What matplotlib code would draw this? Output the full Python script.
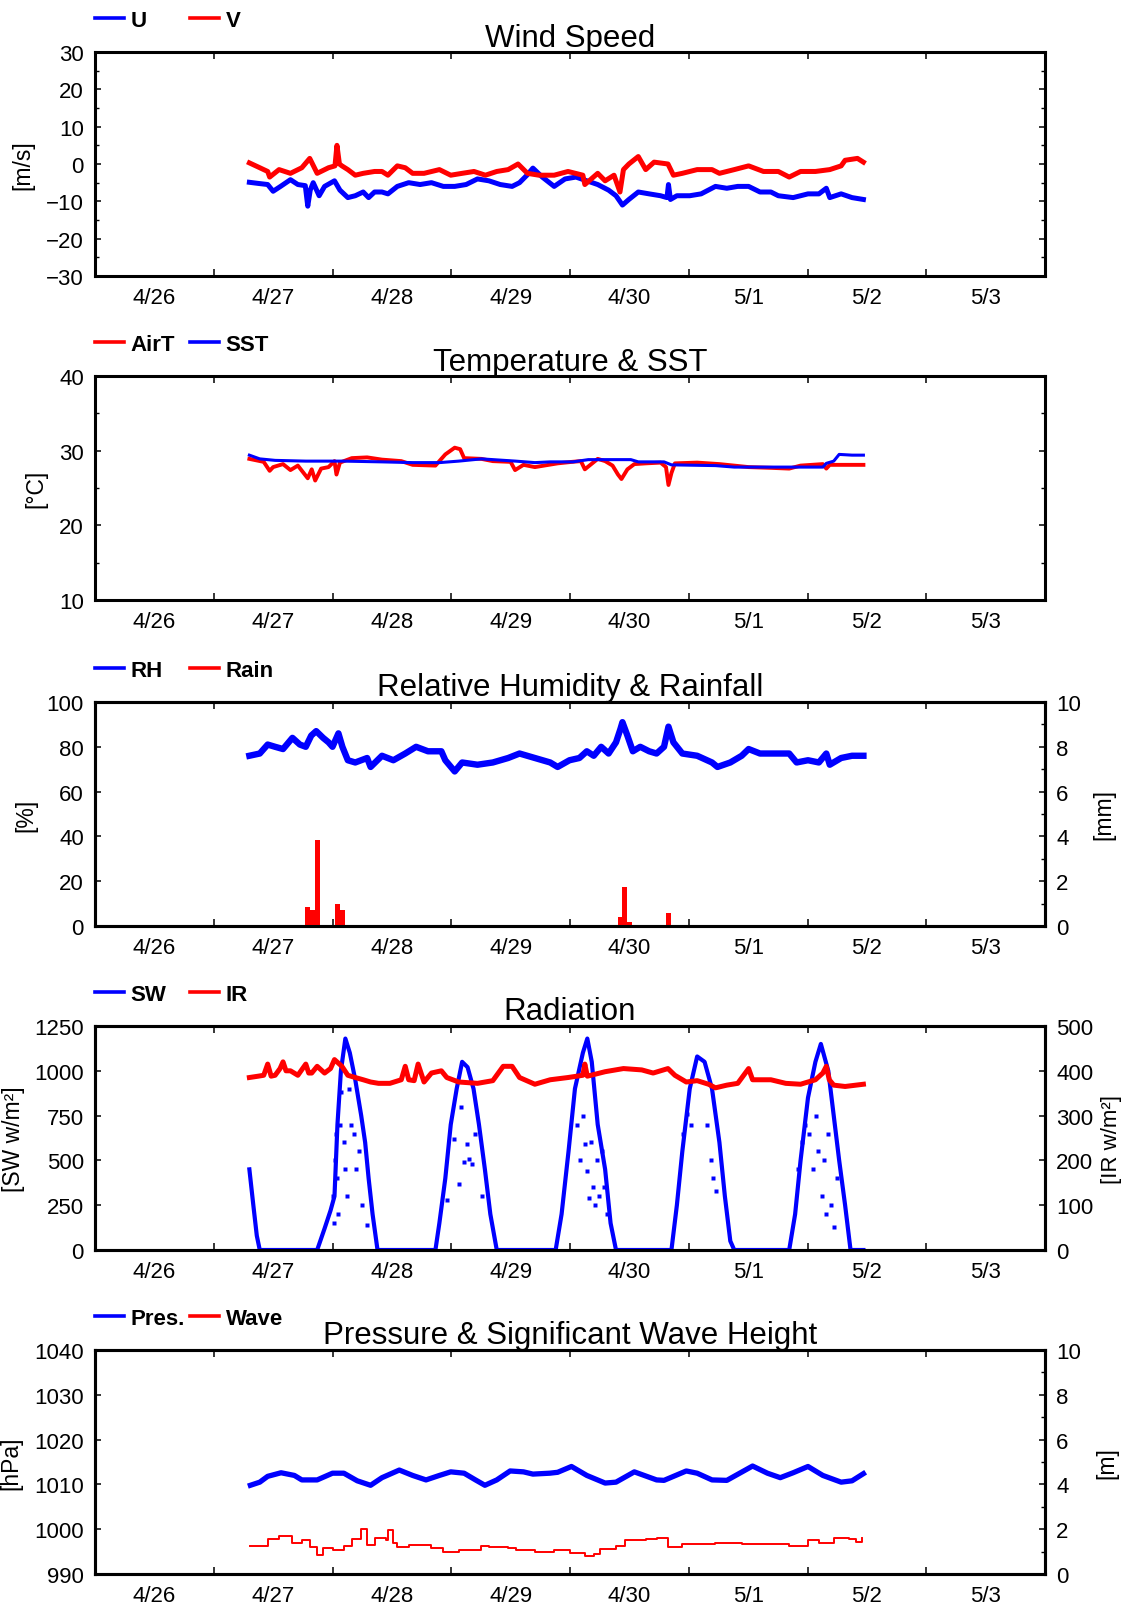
import numpy as np
import matplotlib.pyplot as plt
from matplotlib.lines import Line2D
from matplotlib.legend import Legend
from matplotlib.ticker import MultipleLocator, FixedLocator, FixedFormatter, NullFormatter

plt.rcParams['font.family'] = ['Liberation Sans', 'DejaVu Sans']

BLUE = '#0000ff'
RED = '#ff0000'

# time axis: hours since 4/26 00:00, labels sit at noon of each day
day_labels = ['4/26', '4/27', '4/28', '4/29', '4/30', '5/1', '5/2', '5/3']

# --- wind speed [m/s]
u_t = [31.2, 33.0, 34.9, 36.0, 37.5, 39.5, 41.0, 42.5, 43.0, 43.5,
       44.1, 45.3, 46.4, 48.4, 49.5, 51.1, 52.6, 54.2, 55.3, 56.5,
       58.0, 59.2, 61.1, 63.4, 65.7, 68.0, 70.4, 72.7, 75.0, 77.3,
       79.6, 81.9, 84.3, 85.8, 87.3, 88.5, 90.4, 92.8, 95.0, 97.2,
       99.4, 101.6, 103.8, 105.3, 106.6, 107.9, 109.8, 112.0, 114.3, 115.6,
       115.9, 116.3, 117.6, 120.2, 122.5, 125.4, 127.7, 129.9, 132.1, 134.4,
       136.6, 138.1, 141.1, 144.1, 146.3, 147.8, 148.5, 150.8, 153.0, 155.3]
u_v = [-4.9, -5.2, -5.5, -7.3, -6.0, -4.2, -5.5, -5.8, -11.3, -7.0,
       -5.0, -8.5, -6.0, -4.5, -7.0, -9.0, -8.5, -7.5, -9.0, -7.5,
       -7.5, -8.0, -6.0, -5.0, -5.5, -5.0, -6.0, -6.0, -5.5, -4.0,
       -4.5, -5.5, -6.0, -5.0, -3.0, -1.1, -3.5, -6.0, -4.0, -3.5,
       -4.5, -5.5, -7.0, -8.5, -11.0, -9.5, -7.5, -8.0, -8.5, -9.0,
       -5.5, -9.5, -8.5, -8.5, -8.0, -6.0, -6.5, -6.0, -6.0, -7.5,
       -7.5, -8.5, -9.0, -8.0, -8.0, -6.5, -9.0, -8.0, -9.0, -9.5]
v_t = [31.2, 33.3, 34.9, 35.3, 37.2, 39.5, 41.8, 43.4, 44.9, 47.2,
       48.5, 48.9, 49.4, 49.9, 51.1, 52.6, 54.2, 56.5, 58.0, 59.2,
       61.1, 62.7, 64.2, 66.5, 69.6, 71.9, 74.2, 76.6, 78.9, 81.2,
       83.5, 85.5, 87.4, 89.7, 92.8, 95.6, 98.6, 99.0, 101.6, 103.1,
       104.9, 106.1, 106.8, 107.9, 109.8, 111.3, 113.0, 115.8, 116.9, 118.7,
       121.7, 124.7, 126.2, 129.2, 132.1, 135.1, 138.1, 140.3, 142.6, 145.6,
       148.5, 150.8, 151.6, 154.1, 155.3]
v_v = [0.3, -1.0, -2.0, -3.5, -1.5, -2.5, -1.0, 1.5, -2.5, -1.0,
       -0.5, 5.0, 0.0, -0.5, -1.5, -3.0, -2.5, -2.0, -2.0, -3.0,
       -0.5, -1.0, -2.5, -2.5, -1.5, -3.0, -2.5, -2.0, -3.0, -2.0,
       -1.5, 0.0, -2.5, -3.0, -3.0, -2.0, -3.0, -5.5, -2.5, -4.5,
       -3.0, -7.5, -1.5, 0.0, 2.0, -1.5, 0.5, 0.0, -3.0, -2.5,
       -1.5, -1.5, -2.5, -1.5, -0.5, -2.0, -2.0, -3.5, -2.0, -2.0,
       -1.5, -0.5, 1.0, 1.5, 0.5]

# --- air temperature & SST [degC]
airt_t = [31.2, 34.1, 35.3, 36.0, 38.0, 39.5, 41.0, 43.0, 43.8, 44.5,
          45.7, 47.2, 48.4, 48.8, 49.5, 51.9, 55.0, 58.0, 61.9, 64.2,
          68.8, 70.8, 72.7, 73.8, 74.6, 78.1, 80.4, 84.0, 84.9, 86.6,
          88.9, 93.5, 96.4, 98.2, 99.0, 101.6, 103.1, 104.6, 105.7, 106.4,
          107.6, 109.0, 111.3, 114.3, 115.4, 115.9, 116.5, 117.2, 121.7, 126.2,
          132.1, 136.6, 140.3, 142.6, 147.1, 147.8, 148.5, 155.3]
airt_v = [28.9, 28.5, 27.3, 27.8, 28.2, 27.4, 28.0, 26.3, 27.5, 26.0,
          27.6, 27.8, 28.6, 26.8, 28.4, 29.0, 29.1, 28.8, 28.6, 28.1,
          28.0, 29.5, 30.4, 30.2, 29.0, 28.9, 28.6, 28.5, 27.4, 28.1,
          27.8, 28.3, 28.5, 28.6, 27.5, 28.9, 28.6, 28.0, 26.8, 26.2,
          27.5, 28.2, 28.3, 28.4, 27.8, 25.4, 27.0, 28.3, 28.4, 28.2,
          27.8, 27.7, 27.6, 28.0, 28.2, 27.6, 28.1, 28.1]
sst_t = [31.2, 33.3, 36.4, 42.6, 50.3, 58.0, 64.2, 69.6, 73.5, 78.1,
         85.0, 88.9, 92.0, 96.6, 99.7, 108.3, 109.8, 115.0, 116.5, 125.4,
         129.2, 141.1, 147.1, 147.8, 149.3, 150.4, 153.0, 155.3]
sst_v = [29.4, 28.9, 28.7, 28.6, 28.6, 28.5, 28.4, 28.4, 28.6, 28.9,
         28.6, 28.4, 28.5, 28.5, 28.8, 28.8, 28.5, 28.5, 28.1, 28.0,
         27.8, 27.8, 27.8, 28.3, 28.6, 29.5, 29.4, 29.4]

# --- relative humidity [%] & hourly rainfall [mm]
rh_t = [31.2, 33.3, 34.9, 36.4, 38.0, 39.9, 41.4, 42.6, 43.7, 44.7,
        46.1, 47.2, 48.0, 49.2, 50.0, 51.1, 52.6, 55.0, 55.7, 58.0,
        60.3, 62.7, 64.9, 67.3, 70.0, 70.8, 72.7, 74.2, 77.3, 80.4,
        83.5, 85.8, 88.9, 92.0, 93.5, 95.9, 97.9, 99.4, 100.8, 102.3,
        103.8, 105.3, 106.2, 106.6, 107.6, 108.7, 110.2, 112.0, 113.5, 115.0,
        115.9, 116.9, 118.7, 121.7, 124.7, 125.8, 128.4, 130.7, 132.1, 134.4,
        138.1, 140.3, 141.8, 144.1, 146.3, 147.8, 148.5, 150.8, 153.0, 155.3]
rh_v = [76, 77, 81, 80, 79, 84, 81, 80, 85, 87,
        84, 82, 80, 86, 80, 74, 73, 75, 71, 76,
        74, 77, 80, 78, 78, 74, 69, 73, 72, 73,
        75, 77, 75, 73, 71, 74, 75, 78, 76, 80,
        77, 82, 88, 91, 85, 78, 80, 78, 77, 80,
        89, 82, 77, 76, 73, 71, 73, 76, 79, 77,
        77, 77, 73, 74, 73, 77, 72, 75, 76, 76]
rain_t = [43.0, 44.0, 45.0, 49.0, 50.0, 106.2, 107.1, 108.0, 116.0]
rain_v = [0.87, 0.7, 3.85, 1.0, 0.7, 0.42, 1.76, 0.2, 0.57]

# --- short wave [W/m2] (clear envelope + scattered cloudy samples) & IR [W/m2]
sw_t = [31.2, 32.0, 32.7, 33.3,
        44.9, 46.4, 47.6, 48.4, 49.0, 49.7, 50.6, 51.5, 52.6, 53.8, 54.6, 55.3, 56.1, 57.1,
        68.8, 69.6, 70.8, 71.9, 73.1, 74.2, 75.3, 76.5, 77.6, 78.8, 79.9, 81.2,
        93.1, 94.3, 95.7, 97.0, 98.6, 99.5, 100.4, 101.6, 103.1, 104.2, 105.3,
        116.5, 117.6, 118.7, 120.2, 121.7, 123.2, 124.7, 126.2, 127.3, 128.4, 129.2,
        140.3, 141.5, 142.6, 144.1, 145.6, 146.7, 148.2, 149.3, 150.4, 151.6, 152.7, 155.3]
sw_v = [450, 250, 80, 0,
        0, 120, 220, 300, 700, 1000, 1180, 1100, 950, 750, 600, 400, 200, 0,
        0, 150, 400, 700, 900, 1050, 1020, 900, 700, 450, 200, 0,
        0, 200, 550, 900, 1100, 1180, 1050, 700, 450, 150, 0,
        0, 250, 550, 900, 1080, 1050, 900, 600, 300, 50, 0,
        0, 200, 500, 850, 1050, 1150, 1000, 750, 500, 250, 0, 0]
sw_dot_t = [48.2, 48.4, 48.6, 48.8, 49.0, 49.2, 49.5, 49.8, 50.3, 50.6,
            50.9, 51.4, 51.8, 52.3, 52.7, 53.3, 53.9, 55.0,
            71.1, 72.5, 73.5, 74.0, 74.6, 75.2, 75.6, 76.2, 76.8, 78.3,
            97.5, 98.1, 98.6, 99.0, 99.4, 99.8, 100.2, 100.6, 101.0, 101.4,
            101.9, 102.5, 102.9, 103.5,
            118.9, 119.6, 120.4, 123.6, 124.4, 125.0, 125.6,
            142.0, 142.8, 143.4, 144.4, 145.1, 145.8, 146.2, 146.9, 147.4, 147.8,
            148.2, 148.7, 149.3, 149.9]
sw_dot_v = [300, 150, 500, 650, 400, 200, 700, 880, 600, 450,
            300, 900, 700, 650, 450, 550, 250, 140,
            280, 620, 370, 800, 490, 590, 510, 480, 650, 300,
            700, 500, 750, 590, 440, 290, 600, 350, 250, 500,
            300, 550, 350, 200,
            650, 760, 700, 700, 500, 400, 330,
            450, 600, 700, 650, 450, 750, 550, 300, 500, 200,
            650, 250, 130, 400]
ir_t = [31.2, 33.0, 34.1, 34.9, 35.6, 36.4, 37.4, 38.0, 38.6, 39.5,
        41.0, 42.6, 43.2, 43.8, 44.9, 46.4, 47.6, 48.4, 49.9, 51.1,
        52.6, 54.2, 55.7, 57.3, 59.6, 61.9, 62.7, 63.4, 64.5, 65.3,
        66.5, 68.0, 70.0, 71.1, 73.5, 77.3, 80.4, 82.5, 84.3, 85.8,
        88.9, 92.0, 95.6, 98.6, 99.0, 99.5, 103.1, 106.8, 110.5, 112.8,
        115.8, 117.2, 119.5, 121.7, 124.0, 125.4, 127.7, 129.9, 132.1, 132.9,
        136.6, 139.6, 142.6, 145.6, 147.1, 147.8, 148.4, 149.3, 151.6, 155.3]
ir_v = [385, 388, 390, 415, 388, 390, 405, 420, 400, 400,
        390, 415, 395, 395, 410, 395, 405, 425, 410, 390,
        385, 380, 375, 372, 372, 380, 410, 380, 378, 415,
        375, 395, 400, 385, 375, 372, 378, 410, 410, 385,
        370, 380, 385, 390, 415, 388, 398, 405, 402, 395,
        405, 390, 375, 378, 370, 362, 368, 372, 405, 380,
        380, 372, 370, 380, 395, 410, 380, 368, 365, 370]

# --- pressure [hPa] & significant wave height [m]
p_t = [31.4, 33.3, 34.9, 37.6, 40.3, 41.8, 44.9, 48.0, 50.3, 53.0,
       55.7, 58.0, 61.5, 64.2, 66.9, 69.6, 71.9, 74.6, 76.9, 78.8,
       81.2, 83.9, 86.6, 88.5, 91.9, 93.5, 96.3, 99.4, 103.1, 105.3,
       109.0, 113.5, 115.0, 119.5, 121.7, 124.7, 127.7, 132.9, 135.9, 138.5,
       141.1, 144.1, 147.1, 150.8, 153.0, 155.3]
p_v = [1009.8, 1010.5, 1011.8, 1012.6, 1012.0, 1011.0, 1011.0, 1012.5, 1012.5, 1010.8,
       1009.8, 1011.5, 1013.2, 1012.0, 1011.0, 1012.0, 1012.8, 1012.5, 1011.0, 1009.8,
       1011.0, 1013.0, 1012.8, 1012.3, 1012.5, 1012.7, 1014.0, 1012.0, 1010.3, 1010.5,
       1012.8, 1011.0, 1010.9, 1013.0, 1012.5, 1011.0, 1010.9, 1014.1, 1012.5, 1011.5,
       1012.6, 1014.0, 1012.0, 1010.5, 1010.8, 1012.4]
wave_t = [31.4, 33.8, 35.0, 37.2, 39.9, 41.8, 43.4, 44.9, 46.1, 48.0,
          50.3, 51.9, 53.8, 55.0, 56.5, 58.8, 59.2, 60.3, 61.1, 63.4,
          65.7, 68.0, 70.4, 73.5, 78.1, 79.6, 83.5, 85.1, 88.9, 92.8,
          95.9, 99.0, 100.8, 102.0, 105.3, 107.2, 111.3, 113.5, 115.8, 118.7,
          125.4, 130.7, 135.1, 140.3, 144.1, 146.3, 149.3, 152.3, 153.8, 155.0]
wave_v = [1.25, 1.25, 1.55, 1.7, 1.4, 1.5, 1.2, 0.85, 1.15, 1.05,
          1.25, 1.55, 2.0, 1.3, 1.6, 1.5, 1.95, 1.4, 1.2, 1.3,
          1.3, 1.15, 1.0, 1.05, 1.25, 1.2, 1.15, 1.05, 1.0, 1.05,
          0.95, 0.8, 0.9, 1.1, 1.25, 1.5, 1.55, 1.6, 1.2, 1.35,
          1.4, 1.35, 1.35, 1.25, 1.5, 1.4, 1.6, 1.55, 1.45, 1.6]


def days(t):
    return np.asarray(t) / 24.0


def tick_style(ax, axis):
    ax.tick_params(axis=axis, which='major', length=4.5, width=1.1)
    ax.tick_params(axis=axis, which='minor', length=3, width=1.0)


def setup(ax, ylim, major, minor=None, right=True):
    ax.set_xlim(0, 8)
    ax.set_ylim(*ylim)
    ax.xaxis.set_major_locator(MultipleLocator(1))
    ax.xaxis.set_major_formatter(NullFormatter())
    ax.xaxis.set_minor_locator(FixedLocator(np.arange(8) + 0.5))
    ax.xaxis.set_minor_formatter(FixedFormatter(day_labels))
    ax.tick_params(axis='x', which='major', direction='in', length=5, width=1.1,
                   top=True, bottom=True)
    ax.tick_params(axis='x', which='minor', length=0, pad=8, labelsize=16)
    ax.yaxis.set_major_locator(MultipleLocator(major))
    if minor:
        ax.yaxis.set_minor_locator(MultipleLocator(minor))
    ax.tick_params(axis='y', which='both', direction='in', left=True, right=right,
                   labelsize=16, pad=8)
    tick_style(ax, 'y')
    for sp in ax.spines.values():
        sp.set_linewidth(2.2)


def setup_right(ax2, ylim, major, minor=None):
    ax2.set_ylim(*ylim)
    ax2.yaxis.set_major_locator(MultipleLocator(major))
    if minor:
        ax2.yaxis.set_minor_locator(MultipleLocator(minor))
    ax2.tick_params(axis='y', which='both', direction='in', labelsize=16, pad=8)
    tick_style(ax2, 'y')
    for sp in ax2.spines.values():
        sp.set_linewidth(2.2)


def add_legend(ax, items):
    # two entries at fixed spots above the top-left corner
    for (label, color), x0 in zip(items, [0.0, 0.1]):
        h = Line2D([], [], color=color, lw=2.6)
        leg = Legend(ax, [h], [label], loc='center left', bbox_to_anchor=(x0, 1.14),
                     frameon=False, prop={'weight': 'bold', 'size': 16},
                     handlelength=1.3, handletextpad=0.3, borderpad=0, borderaxespad=0)
        ax.add_artist(leg)


fig = plt.figure(figsize=(11.29, 16.06), dpi=100)
W, H = 1129.0, 1606.0
tops = [53, 377, 703, 1027, 1351]
axes = [fig.add_axes([95 / W, 1 - (t + 224) / H, 950 / W, 224 / H]) for t in tops]
title_kw = dict(fontsize=22.5, pad=4)

# Wind speed
ax = axes[0]
ax.plot(days(u_t), u_v, color=BLUE, lw=3.6)
ax.plot(days(v_t), v_v, color=RED, lw=3.6)
setup(ax, (-30, 30), 10, 5)
ax.set_title('Wind Speed', **title_kw)
ax.set_ylabel('[m/s]', fontsize=16.5)
ax.yaxis.set_label_coords(-0.064, 0.5)
add_legend(ax, [('U', BLUE), ('V', RED)])

# Temperature & SST
ax = axes[1]
ax.plot(days(airt_t), airt_v, color=RED, lw=2.8)
ax.plot(days(sst_t), sst_v, color=BLUE, lw=2.2)
setup(ax, (10, 40), 10, 5)
ax.set_title('Temperature & SST', **title_kw)
ax.set_ylabel('[°C]', fontsize=16.5)
ax.yaxis.set_label_coords(-0.05, 0.5)
add_legend(ax, [('AirT', RED), ('SST', BLUE)])

# Relative humidity & rainfall
ax = axes[2]
ax.plot(days(rh_t), rh_v, color=BLUE, lw=4.6)
ax2 = ax.twinx()
ax2.bar(days(rain_t), rain_v, width=1 / 24, color=RED, linewidth=0)
setup(ax, (0, 100), 20, None, right=False)
setup_right(ax2, (0, 10), 2, 1)
ax.set_title('Relative Humidity & Rainfall', **title_kw)
ax.set_ylabel('[%]', fontsize=16.5)
ax.yaxis.set_label_coords(-0.061, 0.5)
ax2.set_ylabel('[mm]', fontsize=16.5)
ax2.yaxis.set_label_coords(1.05, 0.5)
add_legend(ax, [('RH', BLUE), ('Rain', RED)])

# Radiation
ax = axes[3]
ax.plot(days(sw_t), sw_v, color=BLUE, lw=3)
ax.plot(days(sw_dot_t), sw_dot_v, 's', ms=3, color=BLUE, mec='none')
ax2 = ax.twinx()
ax2.plot(days(ir_t), ir_v, color=RED, lw=3.6)
setup(ax, (0, 1250), 250, None, right=False)
setup_right(ax2, (0, 500), 100, None)
ax.set_title('Radiation', **title_kw)
ax.set_ylabel('[SW w/m²]', fontsize=16.5)
ax.yaxis.set_label_coords(-0.074, 0.5)
ax2.set_ylabel('[IR w/m²]', fontsize=16)
ax2.yaxis.set_label_coords(1.059, 0.5)
add_legend(ax, [('SW', BLUE), ('IR', RED)])

# Pressure & wave height
ax = axes[4]
ax.plot(days(p_t), p_v, color=BLUE, lw=3.8)
ax2 = ax.twinx()
ax2.plot(days(wave_t), wave_v, color=RED, lw=1.4, drawstyle='steps-post')
setup(ax, (990, 1040), 10, None, right=False)
setup_right(ax2, (0, 10), 2, 1)
ax.set_title('Pressure & Significant Wave Height', **title_kw)
ax.set_ylabel('[hPa]', fontsize=16.5)
ax.yaxis.set_label_coords(-0.076, 0.5)
ax2.set_ylabel('[m]', fontsize=16.5)
ax2.yaxis.set_label_coords(1.053, 0.5)
add_legend(ax, [('Pres.', BLUE), ('Wave', RED)])

fig.savefig('out.png', dpi=100)
